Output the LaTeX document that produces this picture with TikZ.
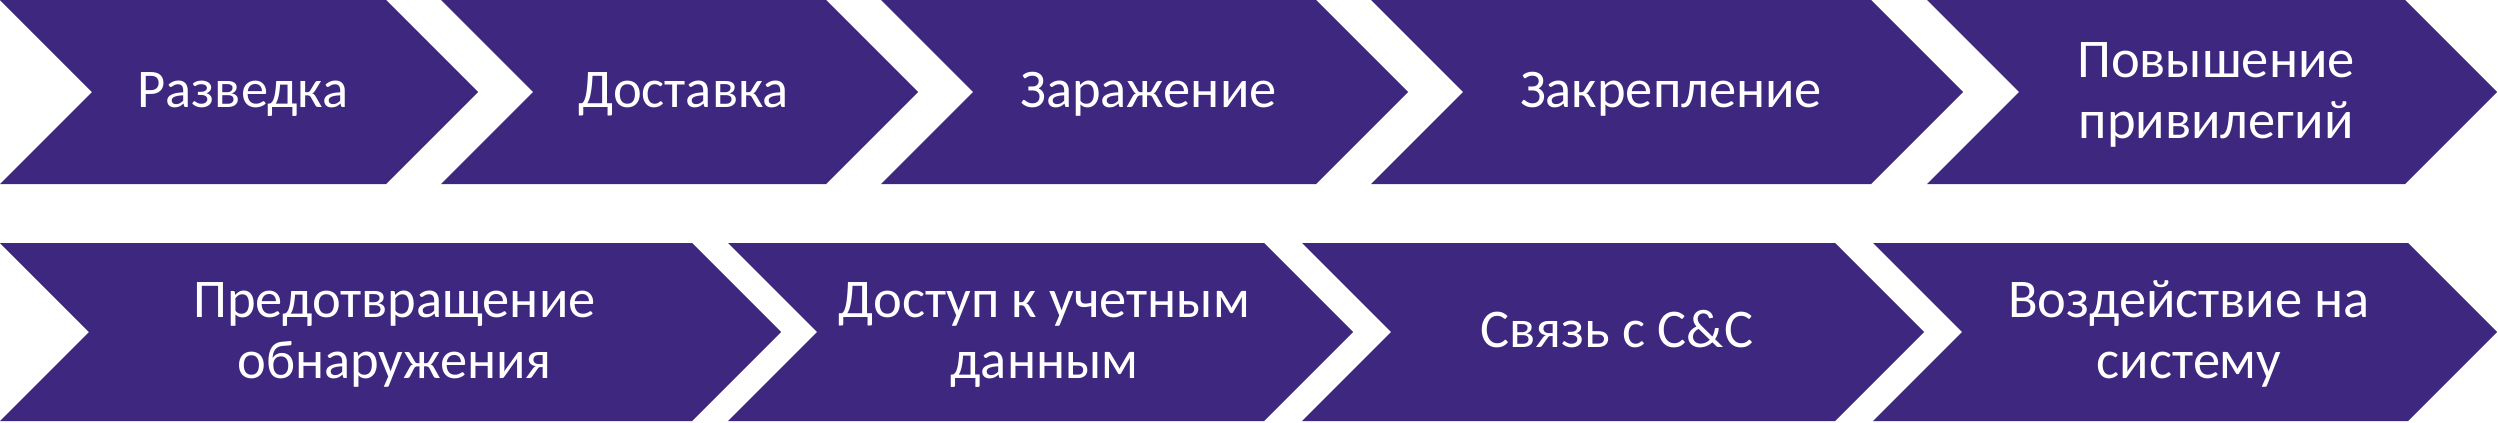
\documentclass[tikz,border=0pt]{standalone}
\usepackage{fontspec}
\setmainfont{Carlito}
\definecolor{chevfill}{RGB}{62,39,127}
\tikzset{
  chev/.style={fill=chevfill},
  lbl/.style={text=white, align=center, inner sep=0pt, font=\fontsize{54.5}{61}\selectfont}
}
\newcommand\mychev[5]{%
  \fill[chev] (#2,-#4) -- ({#3-(#5-#4)/2},-#4) -- (#3,{-(#4+#5)/2}) -- ({#3-(#5-#4)/2},-#5) -- (#2,-#5) -- ({#2+(#5-#4)/2},{-(#4+#5)/2}) -- cycle;
  \coordinate (#1) at ({(#2+#3)/2+4},{-(#4+#5)/2});
}
\begin{document}
\begin{tikzpicture}[x=1pt,y=1pt]
\useasboundingbox (0,0) rectangle (2498,-423);
% row 1
\mychev{c1}{0}{478}{0}{184}
\mychev{c2}{441}{918}{0}{184}
\mychev{c3}{881}{1408}{0}{184}
\mychev{c4}{1371}{1963}{0}{184}
\mychev{c5}{1927}{2497}{0}{184}
% row 2
\mychev{c6}{0}{781}{243}{421}
\mychev{c7}{728}{1353}{243}{421}
\mychev{c8}{1302}{1924}{243}{421}
\mychev{c9}{1873}{2497}{243}{421}
% labels (base = baseline of the last line)
\node[lbl, anchor=base] (t1) at ([yshift=-15pt]c1) {Разведка};
\node[lbl, anchor=base] (t2) at ([yshift=-15pt]c2) {Доставка};
\node[lbl, anchor=base] (t3) at ([yshift=-15pt]c3) {Заражение};
\node[lbl, anchor=base] (t4) at ([yshift=-15pt]c4) {Закрепление};
\node[lbl, anchor=base] (t5) at ([yshift=-46pt]c5) {Повышение\\привилегий};
\node[lbl, anchor=base] (t6) at ([yshift=-46pt]c6) {Предотвращение\\обнаружения};
\node[lbl, anchor=base] (t7) at ([yshift=-46pt]c7) {Доступ к учетным\\данным};
\node[lbl, anchor=base] (t8) at ([yshift=-15pt]c8) {Связь с C\&C};
\node[lbl, anchor=base] (t9) at ([yshift=-46pt]c9) {Воздействие на\\систему};
\end{tikzpicture}
\end{document}
